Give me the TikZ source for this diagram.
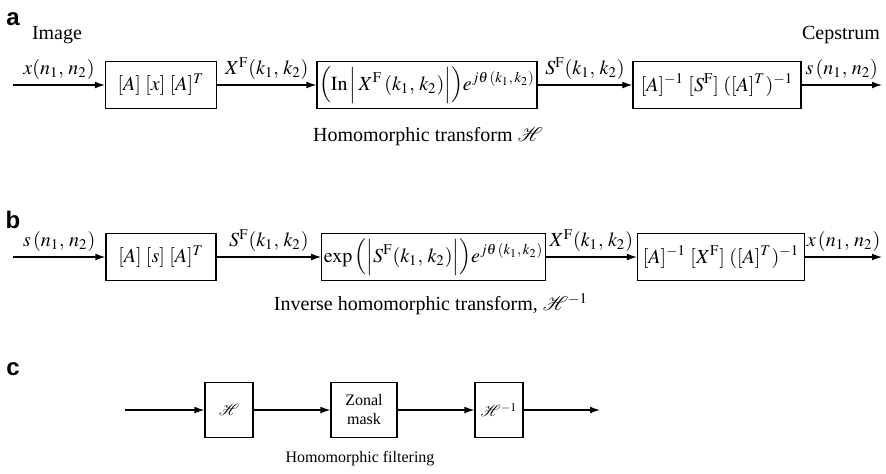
\documentclass[tikz,border=0pt]{standalone}
\usepackage{mathptmx}
\usepackage{fontspec}
\setmainfont{Liberation Serif}
\newfontfamily\panelfont{Liberation Sans}
\usetikzlibrary{arrows.meta,positioning}
\tikzset{
    >={Latex[length=5pt,width=3.4pt]},
    block/.style={rectangle, draw, line width=0.6pt, align=center, inner sep=1pt, minimum height=23.5pt},
    smallblock/.style={block, minimum width=24pt, minimum height=27.5pt},
    sig/.style={above, inner sep=2.5pt},
    panel/.style={font=\panelfont\bfseries\fontsize{12}{12}\selectfont},
    smalltext/.style={font=\fontsize{8}{9.5}\selectfont}
}

\begin{document}
\begin{tikzpicture}[x=0.5pt, y=-0.5pt, ->, line width=0.6pt, font=\fontsize{10}{12}\selectfont]
    \useasboundingbox (0,0) rectangle (886,473);

    % a: homomorphic transform
    \node[panel] (pa) at (13,19) {a};
    \node (img) at (57,35) {Image};
    \node (cep) at (841,35) {Cepstrum};
    \coordinate (ina) at (13,85);
    \node[block, minimum width=55.5pt] (a1) at (161,85) {$[A]\;[x]\;[A]^T$};
    \node[block, minimum width=108pt] (a2) at (427,85)
        {$\Bigl(\mathrm{In}\,\Bigl|\,X^{\mathrm{F}}\,(k_1,\, k_2)\Bigr|\Bigr)e^{j\theta\,(k_1,\, k_2)}$};
    \node[block, minimum width=84pt] (a3) at (717,85) {$[A]^{-1}\;[S^{\mathrm{F}}]\;([A]^T)^{-1}$};
    \coordinate (outa) at (882,85);
    \path (ina) edge node[sig] {$x(n_1,\, n_2)$} (a1)
          (a1) edge node[sig] {$X^{\mathrm{F}}(k_1,\, k_2)$} (a2)
          (a2) edge node[sig] {$S^{\mathrm{F}}(k_1,\, k_2)$} (a3)
          (a3) edge node[sig] {$s\,(n_1,\, n_2)$} (outa);
    \node (capa) at (428,137) {Homomorphic transform $\mathcal{H}$};

    % b: inverse transform
    \node[panel] (pb) at (13,220) {b};
    \coordinate (inb) at (13,257);
    \node[block, minimum width=55pt] (b1) at (161,257) {$[A]\;[s]\;[A]^T$};
    \node[block, minimum width=107.5pt] (b2) at (433.5,257)
        {$\exp\,\Bigl(\Bigl|S^{\mathrm{F}}(k_1,\, k_2)\Bigr|\Bigr)e^{j\theta\,(k_1,\, k_2)}$};
    \node[block, minimum width=83.5pt] (b3) at (721,257) {$[A]^{-1}\;[X^{\mathrm{F}}]\;([A]^T)^{-1}$};
    \coordinate (outb) at (882,257);
    \path (inb) edge node[sig] {$s\,(n_1,\, n_2)$} (b1)
          (b1) edge node[sig] {$S^{\mathrm{F}}(k_1,\, k_2)$} (b2)
          (b2) edge node[sig] {$X^{\mathrm{F}}(k_1,\, k_2)$} (b3)
          (b3) edge node[sig] {$x\,(n_1,\, n_2)$} (outb);
    \node (capb) at (431,304) {Inverse homomorphic transform, $\mathcal{H}^{-1}$};

    % c: filtering
    \node[panel] (pc) at (13,369) {c};
    \coordinate (inc) at (125,410);
    \node[smallblock, smalltext] (hom) at (229,410) {$\mathcal{H}$};
    \node[smallblock, smalltext, minimum width=33pt] (zone) at (364,410) {Zonal\\mask};
    \node[smallblock, smalltext] (ihom) at (499,410) {$\mathcal{H}^{-1}$};
    \coordinate (outc) at (600,410);
    \path (inc) edge (hom)
          (hom) edge (zone)
          (zone) edge (ihom)
          (ihom) edge (outc);
    \node[smalltext] (capc) at (360,459) {Homomorphic filtering};
\end{tikzpicture}
\end{document}
